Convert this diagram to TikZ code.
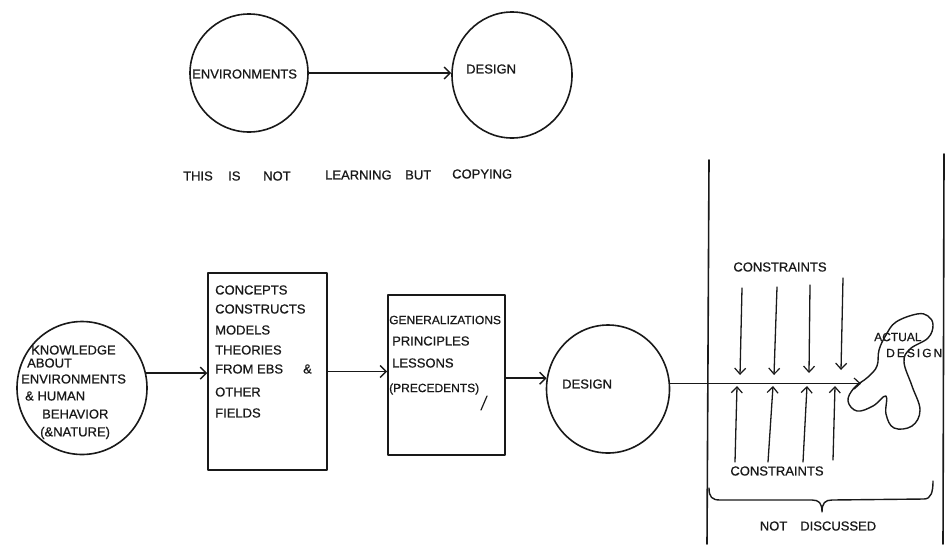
\documentclass[tikz,border=0pt]{standalone}
\usepackage{fontspec}
\setmainfont{Liberation Sans}
\newfontfamily\handfont{Liberation Sans}[FakeBold=0.7]
\usetikzlibrary{arrows.meta,shapes.geometric}
\begin{document}
\begin{tikzpicture}[x=1pt,y=-1pt,
  ink/.style={line width=1.6pt, line cap=round, line join=round, draw=black!90},
  flow/.style={ink, -{Straight Barb[length=6pt,width=12pt,line width=1.4pt]}},
  thin flow/.style={ink, line width=1.3pt, -{Straight Barb[length=6pt,width=11pt,line width=1.2pt]}},
  orb/.style={ink, ellipse, draw, inner sep=0pt},
  panel/.style={ink, rectangle, draw, inner sep=0pt},
  hand/.style={font=\handfont\fontsize{13}{15}\selectfont, inner sep=0pt, anchor=west, text=black!90},
  small hand/.style={hand, font=\handfont\fontsize{12}{14}\selectfont},
  handc/.style={hand, anchor=center}]

\useasboundingbox (0,0) rectangle (949,544);

% ---- upper diagram: environments copied straight into design
\node[orb, minimum width=118pt, minimum height=118pt] (env) at (249,73) {};
\node[orb, minimum width=120pt, minimum height=126pt] (des) at (512,75) {};
\node[hand] (envtxt) at (192,74) {ENVIRONMENTS};
\node[hand] (destxt) at (466,69) {DESIGN};
\draw[flow] (env.east) -- (env.east -| des.west);

\node[hand] (n1) at (183,176) {THIS};
\node[hand] (n2) at (228,176) {IS};
\node[hand] (n3) at (263,176) {NOT};
\node[hand] (n4) at (325,175) {LEARNING};
\node[hand] (n5) at (405,175) {BUT};
\node[hand] (n6) at (452,174) {COPYING};

% ---- lower diagram: knowledge to design chain
\node[orb, minimum width=130pt, minimum height=133pt] (know) at (82,388) {};
\node[hand] (k1) at (31,350) {KNOWLEDGE};
\node[hand] (k2) at (27,363) {ABOUT};
\node[hand] (k3) at (21,379) {ENVIRONMENTS};
\node[hand] (k4) at (25,396) {\& HUMAN};
\node[hand] (k5) at (42,414) {BEHAVIOR};
\node[hand] (k6) at (40,433) {(\&NATURE)};

\node[panel, minimum width=119pt, minimum height=197pt] (box1) at (267.5,371.5) {};
\node[hand] (b1) at (215,290) {CONCEPTS};
\node[hand] (b2) at (215,309) {CONSTRUCTS};
\node[hand] (b3) at (215,330) {MODELS};
\node[hand] (b4) at (215,350) {THEORIES};
\node[hand] (b5) at (215,369) {FROM EBS};
\node[hand] (b5b) at (303,369) {\&};
\node[hand] (b6) at (215,392) {OTHER};
\node[hand] (b7) at (215,413) {FIELDS};

\node[panel, minimum width=117pt, minimum height=160pt] (box2) at (446.5,375) {};
\node[small hand] (g1) at (389,320) {GENERALIZATIONS};
\node[hand] (g2) at (392,341) {PRINCIPLES};
\node[hand] (g3) at (392,363) {LESSONS};
\node[small hand] (g4) at (389,389) {(PRECEDENTS)};
\draw[ink, line width=1.2pt] (481,410) -- (487,396);

\node[orb, minimum width=123pt, minimum height=128pt] (dsn) at (608,389) {};
\node[hand] (dsntxt) at (562,384) {DESIGN};

\draw[flow] (know.13) -- (know.13 -| box1.west);
\draw[flow] (box1.east) -- (box1.east -| box2.west);
\draw[flow] (dsn.170 -| box2.east) -- (dsn.170);

% ---- the region that is not discussed
\coordinate (lt) at (709,160);
\coordinate (lb) at (707,544);
\coordinate (rt) at (944,154);
\coordinate (rb) at (943,544);
\draw[ink] (lt) -- (lb);
\draw[ink] (rt) -- (rb);

\coordinate (tip) at (861,383);
\draw[thin flow] (dsn.5) -- (dsn.5 -| tip);

% actual design blob
\draw[ink, line width=1.4pt] plot[smooth cycle, tension=0.65] coordinates {
  (917,314) (896,322) (886,335) (879,350) (877,366) (868,377) (854,388)
  (848,401) (857,411) (873,406) (886,396) (886,414) (894,428) (912,426)
  (920,410) (912,386) (904,362) (910,349) (928,338) (933,325) (928,316)};
\node[small hand] (act1) at (874,337) {ACTUAL};
\node[small hand] (act2) at (886,353) {D\,E\,S\,I\,G\,N};

% constraints pressing from above
\node[handc] (ctop) at (780,267) {CONSTRAINTS};
\coordinate (a1) at (742,288); \coordinate (a1e) at (740,375);
\coordinate (a2) at (777,287); \coordinate (a2e) at (774,375);
\coordinate (a3) at (810,285); \coordinate (a3e) at (809,373);
\coordinate (a4) at (843,278); \coordinate (a4e) at (841,370);
\foreach \s/\e in {a1/a1e,a2/a2e,a3/a3e,a4/a4e}
  \draw[thin flow] (\s) -- (\e);

% constraints pressing from below
\node[handc] (cbot) at (777,471) {CONSTRAINTS};
\coordinate (c1) at (735,462); \coordinate (c1e) at (737,386);
\coordinate (c2) at (768,462); \coordinate (c2e) at (773,386);
\coordinate (c3) at (803,462); \coordinate (c3e) at (807,386);
\coordinate (c4) at (833,460); \coordinate (c4e) at (835,386);
\foreach \s/\e in {c1/c1e,c2/c2e,c3/c3e,c4/c4e}
  \draw[thin flow] (\s) -- (\e);

% brace and its caption
\draw[ink, line width=1.4pt] (709,488) .. controls (709,497) and (712,500) .. (720,500)
  -- (812,500) .. controls (819,500) and (822,503) .. (822,512)
  .. controls (822,503) and (825,500) .. (832,500)
  -- (924,499) .. controls (931,499) and (933,492) .. (933,481);
\node[handc] (nd) at (818,526) {NOT\quad DISCUSSED};

\end{tikzpicture}
\end{document}
